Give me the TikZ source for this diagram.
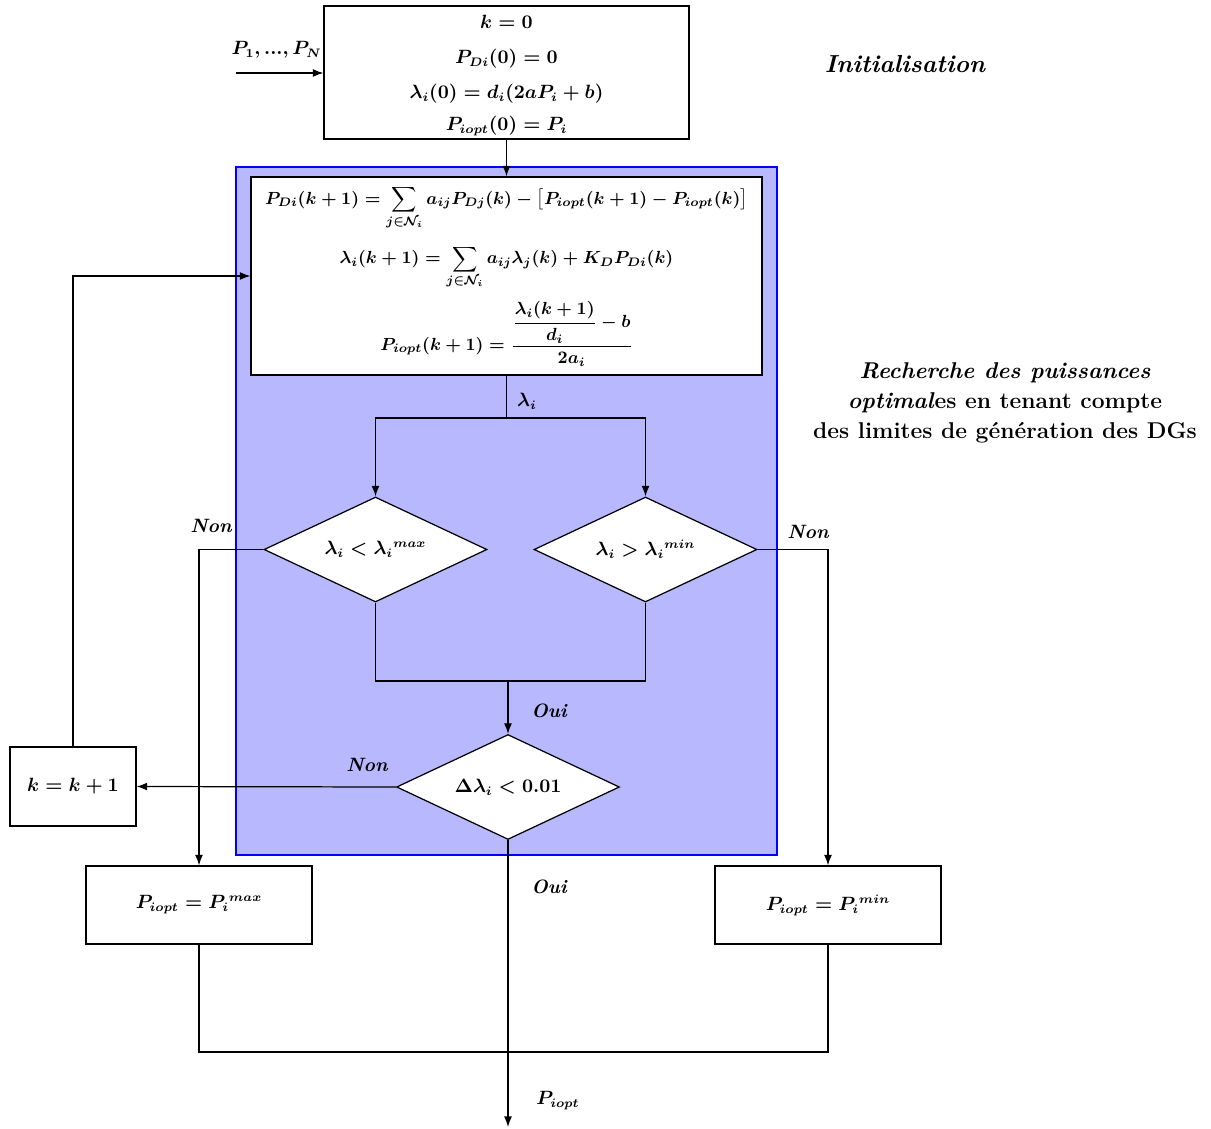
\documentclass[tikz,border=0pt]{standalone}
\usepackage{amsmath}
\usetikzlibrary{arrows.meta,shapes.geometric,calc}
\colorlet{zonecol}{blue!28}
\colorlet{zoneedge}{blue}
\newcommand\mathsz{\fontsize{10.5}{13}\selectfont\boldmath}
\newcommand\textsz{\fontsize{13}{17}\selectfont\bfseries}
\tikzset{>={Latex[length=6pt,width=4.5pt]}}
\tikzset{
  box/.style={draw,fill=white,inner sep=2pt,align=center},
  decision/.style={draw,fill=white,diamond,aspect=2.12,inner sep=0pt,
                   minimum width=4.46cm,minimum height=2.1cm},
  lbl/.style={font=\fontsize{11}{13}\selectfont\bfseries\itshape},
  flow/.style={->},
}

\begin{document}
\begin{tikzpicture}[x=0.02cm,y=-0.02cm,line width=0.7pt,font=\mathsz]
  \useasboundingbox (0,0) rectangle (1211,1129);

  % ZONE
  \filldraw[fill=zonecol,draw=zoneedge] (236,167) rectangle (777,855);

  % BOXES
  \node[box,minimum width=7.3cm,minimum height=2.66cm,text depth=-2pt] (init) at (506.5,72.5)
    {$k=0$\\[7pt] $P_{Di}(0)=0$\\[7pt] $\lambda_i(0)=d_i(2aP_i+b)$\\[5pt] $P_{iopt}(0)=P_i$};
  \node[box,minimum width=10.22cm,minimum height=3.96cm,inner sep=0pt,
        font=\fontsize{10}{12}\selectfont\boldmath] (upd) at (506.5,276)
    {$\begin{gathered}
      P_{Di}(k+1)=\sum_{j\in\mathcal{N}_i}a_{ij}P_{Dj}(k)-\bigl[P_{iopt}(k+1)-P_{iopt}(k)\bigr]\\[5pt]
      \lambda_i(k+1)=\sum_{j\in\mathcal{N}_i}a_{ij}\lambda_j(k)+K_DP_{Di}(k)\\[3pt]
      P_{iopt}(k+1)=\dfrac{\dfrac{\lambda_i(k+1)}{d_i}-b}{2a_i}
    \end{gathered}$};
  \node[box,minimum width=2.52cm,minimum height=1.58cm] (kbox) at (73,786.5) {$k=k+1$};
  \node[box,minimum width=4.52cm,minimum height=1.56cm] (pmax) at (199,905) {$P_{iopt}=P_i{}^{max}$};
  \node[box,minimum width=4.52cm,minimum height=1.56cm] (pmin) at (828,905) {$P_{iopt}=P_i{}^{min}$};

  % DECISIONS
  \node[decision] (d1) at (375.5,549.5) {$\lambda_i<\lambda_i{}^{max}$};
  \node[decision] (d2) at (645.5,549.5) {$\lambda_i>\lambda_i{}^{min}$};
  \node[decision] (d3) at (508,787) {$\Delta\lambda_i<0.01$};

  \coordinate (in)    at (236,73);
  \coordinate (split) at (506.5,418);
  \coordinate (join)  at (508,681);
  \coordinate (merge) at (508,1052);
  \coordinate (out)   at (508,1127);

  % LINES
  \draw[flow] (in) -- (in -| init.west);
  \draw[flow] (init.south) -- (upd.north);
  \draw (upd.south) -- (split);
  \draw[flow] (split) -| (d1.north);
  \draw[flow] (split) -| (d2.north);
  \draw (d1.south) |- (join) -| (d2.south);
  \draw[flow] (join) -- (d3.north);
  \draw[flow] (d3.west) -- (kbox.east);
  \draw[flow] (kbox.north) |- (upd.west);
  \draw[flow] (d1.west) -| (pmax.north);
  \draw[flow] (d2.east) -| (pmin.north);
  \draw (pmax.south) |- (merge) -| (pmin.south);
  \draw[flow] (d3.south) -- (out);

  % LABELS
  \node[anchor=west,inner sep=0pt] (lpn) at (231,50) {$P_1{,}\,{\ldotp}{\ldotp}{\ldotp}{,}\,P_N$};
  \node[font=\fontsize{14}{17}\selectfont\bfseries\itshape] (linit) at (905,64) {Initialisation};
  \node[align=center,font=\textsz] (lrech) at (1005,403)
    {\textit{Recherche des puissances}\\ \textit{optimal}es en tenant compte\\ des limites de génération des DGs};
  \node (llam) at (527,401) {$\lambda_i$};
  \node[lbl] (lnon1) at (211,526) {Non};
  \node[lbl] (lnon2) at (808,532) {Non};
  \node[lbl] (lnon3) at (367,765) {Non};
  \node[lbl] (loui1) at (549,711) {Oui};
  \node[lbl] (loui2) at (549,887) {Oui};
  \node (lpout) at (558,1101) {$P_{iopt}$};
\end{tikzpicture}
\end{document}
